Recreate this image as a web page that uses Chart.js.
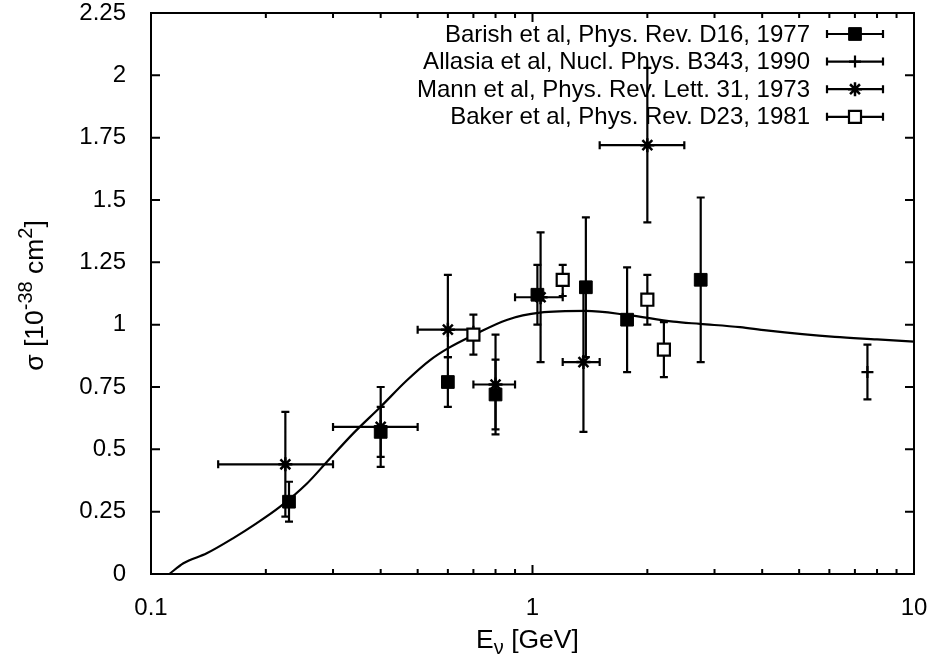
<!DOCTYPE html>
<html lang="en">
<head>
<meta charset="UTF-8">
<title>Quasi-elastic neutrino cross section</title>
<script src="https://cdn.jsdelivr.net/npm/chart.js"></script>
<style>
  html, body { margin: 0; padding: 0; background: #fff; }
  canvas { display: block; }
</style>
</head>
<body>
<canvas id="chart" width="936" height="657"></canvas>
<script>
const FONT = '"Liberation Sans", Arial, Helvetica, sans-serif';
const FS = 24;      // tick labels and key
const TFS = 26.5;   // axis titles
const SFS = 20;     // super/subscripts

// axis ticks
const xTickLabels = [0.1, 1, 10];
const yTickLabels = [0, 0.25, 0.5, 0.75, 1, 1.25, 1.5, 1.75, 2, 2.25];

// theory curve
const curveE     = [0.1117, 0.1216, 0.140, 0.164, 0.189, 0.218, 0.256, 0.2885, 0.339, 0.400, 0.468, 0.539, 0.600, 0.704, 0.856, 1.046, 1.38, 1.77, 2.34, 2.75, 3.5, 4.1, 6.2, 8.0, 10];
const curveSigma = [0, 0.043, 0.083, 0.143, 0.203, 0.270, 0.362, 0.448, 0.564, 0.671, 0.776, 0.858, 0.905, 0.960, 1.019, 1.048, 1.055, 1.039, 1.012, 1.003, 0.990, 0.977, 0.951, 0.941, 0.932];

// Barish et al, Phys. Rev. D16, 1977
const barishE  = [0.23, 0.40, 0.60, 0.80, 1.03, 1.38, 1.77, 2.76];
const barishS  = [0.29, 0.57, 0.77, 0.72, 1.12, 1.15, 1.02, 1.18];
const barishLo = [0.21, 0.47, 0.67, 0.58, 1.00, 0.87, 0.81, 0.85];
const barishHi = [0.37, 0.67, 0.87, 0.86, 1.24, 1.43, 1.23, 1.51];

// Allasia et al, Nucl. Phys. B343, 1990
const allasiaE  = [7.55];
const allasiaS  = [0.81];
const allasiaLo = [0.70];
const allasiaHi = [0.92];

// Mann et al, Phys. Rev. Lett. 31, 1973
const mannE   = [0.225, 0.40, 0.60, 0.80, 1.05, 1.36, 2.0];
const mannS   = [0.44, 0.59, 0.98, 0.76, 1.11, 0.85, 1.72];
const mannLo  = [0.23, 0.43, 0.87, 0.56, 0.85, 0.57, 1.41];
const mannHi  = [0.65, 0.75, 1.20, 0.96, 1.37, 1.13, 2.03];
const mannELo = [0.15, 0.30, 0.50, 0.70, 0.90, 1.20, 1.50];
const mannEHi = [0.30, 0.50, 0.70, 0.90, 1.20, 1.50, 2.50];

// Baker et al, Phys. Rev. D23, 1981
const bakerE  = [0.70, 1.20, 2.00, 2.21];
const bakerS  = [0.96, 1.18, 1.10, 0.90];
const bakerLo = [0.88, 1.115, 1.00, 0.79];
const bakerHi = [1.04, 1.24, 1.20, 1.01];

const legendLabels = [
  'Barish et al, Phys. Rev. D16, 1977',
  'Allasia et al, Nucl. Phys. B343, 1990',
  'Mann et al, Phys. Rev. Lett. 31, 1973',
  'Baker et al, Phys. Rev. D23, 1981'
];

const pts = (xs, ys) => xs.map((x, i) => ({ x: x, y: ys[i] }));

const curveSet = {
  label: 'theory', data: pts(curveE, curveSigma), showLine: true,
  borderColor: '#000', borderWidth: 2.2, pointRadius: 0,
  cubicInterpolationMode: 'monotone', order: 5
};
const barishSet = {
  label: legendLabels[0], data: pts(barishE, barishS),
  pointStyle: 'rect', pointRadius: 9, backgroundColor: '#000', borderColor: '#000', borderWidth: 1,
  errLo: barishLo, errHi: barishHi
};
const allasiaSet = {
  label: legendLabels[1], data: pts(allasiaE, allasiaS),
  pointStyle: 'cross', pointRadius: 6, borderColor: '#000', borderWidth: 2.2,
  errLo: allasiaLo, errHi: allasiaHi
};
const mannSet = {
  label: legendLabels[2], data: pts(mannE, mannS),
  pointStyle: 'star', pointRadius: 7, borderColor: '#000', borderWidth: 2.5,
  errLo: mannLo, errHi: mannHi, errXLo: mannELo, errXHi: mannEHi
};
const bakerSet = {
  label: legendLabels[3], data: pts(bakerE, bakerS),
  pointStyle: 'rect', pointRadius: 8.5, backgroundColor: '#fff', borderColor: '#000', borderWidth: 2.2,
  errLo: bakerLo, errHi: bakerHi
};
const markerSets = [barishSet, allasiaSet, mannSet, bakerSet];

// error bars and key (drawn under the markers)
const errorBars = {
  id: 'errorBars',
  beforeDatasetsDraw(chart) {
    const ctx = chart.ctx, xs = chart.scales.x, ys = chart.scales.y;
    const cap = 4;
    ctx.save();
    ctx.strokeStyle = '#000';
    ctx.lineWidth = 2.2;
    ctx.lineCap = 'butt';

    // key
    ctx.font = FS + 'px ' + FONT;
    ctx.fillStyle = '#000';
    ctx.textAlign = 'right';
    ctx.textBaseline = 'middle';
    markerSets.forEach((ds, i) => {
      const ry = 34 + i * 27.6;
      ctx.fillText(ds.label, 810, ry + 1);
      ctx.beginPath();
      ctx.moveTo(827, ry); ctx.lineTo(883, ry);
      ctx.moveTo(827, ry - cap); ctx.lineTo(827, ry + cap);
      ctx.moveTo(883, ry - cap); ctx.lineTo(883, ry + cap);
      ctx.stroke();
    });

    markerSets.forEach(ds => {
      ctx.beginPath();
      ds.data.forEach((p, i) => {
        const px = xs.getPixelForValue(p.x), py = ys.getPixelForValue(p.y);
        const y1 = ys.getPixelForValue(ds.errLo[i]), y2 = ys.getPixelForValue(ds.errHi[i]);
        ctx.moveTo(px, y1); ctx.lineTo(px, y2);
        ctx.moveTo(px - cap, y1); ctx.lineTo(px + cap, y1);
        ctx.moveTo(px - cap, y2); ctx.lineTo(px + cap, y2);
        if (ds.errXLo) {
          const x1 = xs.getPixelForValue(ds.errXLo[i]), x2 = xs.getPixelForValue(ds.errXHi[i]);
          ctx.moveTo(x1, py); ctx.lineTo(x2, py);
          ctx.moveTo(x1, py - cap); ctx.lineTo(x1, py + cap);
          ctx.moveTo(x2, py - cap); ctx.lineTo(x2, py + cap);
        }
      });
      ctx.stroke();
    });
    ctx.restore();
  },
  afterDatasetsDraw(chart) {
    // key sample markers on top of their lines
    const ctx = chart.ctx;
    ctx.save();
    markerSets.forEach((ds, i) => {
      const ry = 34 + i * 27.6;
      ctx.fillStyle = ds.backgroundColor || '#000';
      ctx.strokeStyle = '#000';
      ctx.lineWidth = ds.borderWidth;
      Chart.helpers.drawPoint(ctx, { pointStyle: ds.pointStyle, radius: ds.pointRadius, rotation: 0, borderWidth: ds.borderWidth }, 855, ry);
    });
    ctx.restore();
  }
};

// text with super/subscripts, centred on x
function drawScript(ctx, parts, x, y) {
  let w = 0;
  parts.forEach(p => { ctx.font = p.size + 'px ' + FONT; w += ctx.measureText(p.t).width; });
  let cx = x - w / 2;
  parts.forEach(p => {
    ctx.font = p.size + 'px ' + FONT;
    ctx.fillText(p.t, cx, y + (p.dy || 0));
    cx += ctx.measureText(p.t).width;
  });
}

// gnuplot style frame with inward ticks on all sides, axis titles
const frame = {
  id: 'frame',
  afterDraw(chart) {
    const ctx = chart.ctx, a = chart.chartArea, xs = chart.scales.x, ys = chart.scales.y;
    ctx.save();
    ctx.strokeStyle = '#000';
    ctx.lineWidth = 2;
    ctx.beginPath();
    ctx.rect(a.left, a.top, a.right - a.left, a.bottom - a.top);
    const major = 9, minor = 5;
    yTickLabels.forEach(v => {
      const py = ys.getPixelForValue(v);
      ctx.moveTo(a.left, py); ctx.lineTo(a.left + major, py);
      ctx.moveTo(a.right, py); ctx.lineTo(a.right - major, py);
    });
    [0.1, 1].forEach(dec => {
      for (let k = 1; k <= 10; k++) {
        const px = xs.getPixelForValue(dec * k);
        const len = (k === 1 || k === 10) ? major : minor;
        ctx.moveTo(px, a.bottom); ctx.lineTo(px, a.bottom - len);
        ctx.moveTo(px, a.top); ctx.lineTo(px, a.top + len);
      }
    });
    ctx.stroke();

    ctx.fillStyle = '#000';
    ctx.textAlign = 'left';
    ctx.textBaseline = 'alphabetic';
    drawScript(ctx, [
      { t: 'E', size: TFS },
      { t: '\u03bd', size: SFS, dy: 6 },
      { t: ' [GeV]', size: TFS }
    ], (a.left + a.right) / 2 - 5, 648);
    ctx.translate(43, (a.top + a.bottom) / 2 + 2);
    ctx.rotate(-Math.PI / 2);
    drawScript(ctx, [
      { t: '\u03c3 [10', size: TFS },
      { t: '-38', size: SFS, dy: -11 },
      { t: ' cm', size: TFS },
      { t: '2', size: SFS, dy: -11 },
      { t: ']', size: TFS }
    ], 0, 0);
    ctx.restore();
  }
};

new Chart(document.getElementById('chart'), {
  type: 'scatter',
  data: { datasets: [curveSet, barishSet, allasiaSet, mannSet, bakerSet] },
  options: {
    responsive: false,
    animation: false,
    devicePixelRatio: 1,
    layout: { padding: { top: 13, right: 22, left: 0, bottom: 0 } },
    plugins: { legend: { display: false }, tooltip: { enabled: false } },
    scales: {
      x: {
        type: 'logarithmic', min: 0.1, max: 10,
        grid: { display: false }, border: { display: false },
        afterFit(s) { s.height = 83; s.paddingLeft = 0; s.paddingRight = 0; },
        afterBuildTicks(s) { s.ticks = xTickLabels.map(v => ({ value: v })); },
        ticks: {
          color: '#000', font: { family: FONT, size: FS }, padding: 12,
          maxRotation: 0, autoSkip: false,
          callback: v => String(v)
        }
      },
      y: {
        min: 0, max: 2.25,
        grid: { display: false }, border: { display: false },
        afterFit(s) { s.width = 151; s.paddingTop = 0; s.paddingBottom = 0; },
        afterBuildTicks(s) { s.ticks = yTickLabels.map(v => ({ value: v })); },
        ticks: {
          color: '#000', font: { family: FONT, size: FS }, padding: 17,
          callback: v => String(v)
        }
      }
    }
  },
  plugins: [errorBars, frame]
});
</script>
</body>
</html>
